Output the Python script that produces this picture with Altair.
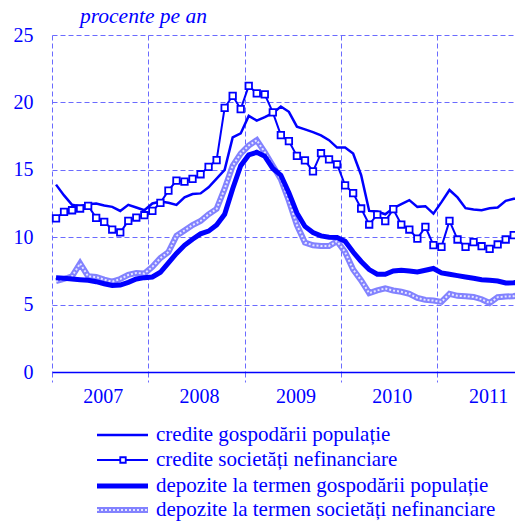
import altair as alt
import pandas as pd

# ---------------- data (monthly, Jan 2007 - Nov 2011) ----------------
credite_gosp = [13.9, 13.1, 12.4, 12.3, 12.45, 12.5, 12.35, 12.25, 11.95, 12.4, 12.2, 12.0,
                12.5, 12.65, 12.55, 12.4, 12.95, 13.2, 13.25, 13.7, 14.35, 15.0, 17.4, 17.7,
                19.0, 18.65, 18.9, 19.2, 19.7, 19.3, 18.2, 18.0, 17.8, 17.55, 17.2, 16.65,
                16.65, 16.2, 14.6, 11.95, 11.9, 11.7, 12.15, 12.45, 12.75, 12.25, 12.3, 11.75,
                12.6, 13.5, 12.95, 12.15, 12.05, 12.0, 12.15, 12.2, 12.7, 12.85, 12.9]
credite_soc = [11.4, 11.88, 12.0, 12.13, 12.33, 11.43, 11.14, 10.57, 10.35, 11.21, 11.46, 11.63,
               11.95, 12.55, 13.45, 14.2, 14.12, 14.33, 14.67, 15.22, 15.72, 19.6, 20.49, 19.5,
               21.23, 20.67, 20.6, 19.26, 17.57, 17.13, 16.03, 15.7, 14.88, 16.23, 15.77, 15.41,
               13.85, 13.27, 12.13, 10.94, 11.68, 11.19, 12.08, 10.94, 10.57, 9.9, 10.77, 9.41,
               9.28, 11.21, 9.83, 9.28, 9.63, 9.33, 9.13, 9.46, 9.83, 10.15, 10.15]
depozite_gosp = [7.0, 6.95, 6.9, 6.85, 6.8, 6.7, 6.55, 6.42, 6.45, 6.65, 6.9, 7.0,
                 7.05, 7.4, 8.1, 8.8, 9.4, 9.85, 10.25, 10.45, 10.9, 11.7, 13.6, 15.3,
                 16.1, 16.3, 16.0, 15.1, 14.6, 13.3, 11.8, 10.8, 10.35, 10.1, 10.0, 9.98,
                 9.7, 8.9, 8.2, 7.6, 7.25, 7.25, 7.5, 7.55, 7.5, 7.42, 7.55, 7.68,
                 7.35, 7.25, 7.15, 7.05, 6.95, 6.85, 6.8, 6.75, 6.6, 6.62, 6.68]
depozite_soc = [6.75, 6.9, 7.1, 8.05, 7.1, 7.05, 6.85, 6.7, 6.9, 7.2, 7.35, 7.3,
                7.8, 8.45, 8.9, 10.1, 10.5, 10.9, 11.2, 11.7, 12.1, 13.6, 15.3, 16.2,
                16.8, 17.2, 16.3, 15.3, 14.3, 12.7, 10.9, 9.6, 9.4, 9.35, 9.35, 9.7,
                8.9, 7.6, 6.8, 5.85, 6.05, 6.2, 6.05, 5.95, 5.8, 5.5, 5.35, 5.3,
                5.2, 5.8, 5.65, 5.62, 5.57, 5.4, 5.12, 5.55, 5.6, 5.62, 5.8]
years = ["2007", "2008", "2009", "2010", "2011"]
y_ticks = [0, 5, 10, 15, 20, 25]
legend_labels = ["credite gospodării populație",
                 "credite societăți nefinanciare",
                 "depozite la termen gospodării populație",
                 "depozite la termen societăți nefinanciare"]
unit_title = "procente pe an"

# ---------------- tables ----------------
n = len(credite_gosp)
df = pd.DataFrame({
    "t": [i + 0.5 for i in range(n)],
    "cg": credite_gosp,
    "cs": credite_soc,
    "dg": depozite_gosp,
    "ds": depozite_soc,
})
df_years = pd.DataFrame({"tc": [6 + 12 * k for k in range(len(years))], "year": years})

BLUE = "#0000ff"
GRID = "#6b6bff"
FONT = "Liberation Serif"
W, H = 463, 337
MONTH_PX = 8.03

xscale = alt.Scale(domain=[0, W / MONTH_PX], nice=False, zero=False)
yscale = alt.Scale(domain=[0, 25], nice=False, zero=True)
xaxis = alt.Axis(values=[0, 12, 24, 36, 48], grid=True, gridDash=[5, 3], gridColor=GRID,
                 gridWidth=1, ticks=True, tickSize=10, tickDash=[5, 3], tickColor=GRID,
                 labels=False, domain=True, domainColor=BLUE, domainWidth=1.5, title=None)
yaxis = alt.Axis(values=y_ticks, grid=True, gridDash=[5, 3], gridColor=GRID, gridWidth=1,
                 ticks=False, domain=False, labelFont=FONT, labelFontSize=20,
                 labelColor=BLUE, labelPadding=19, title=None)


def X(field="t"):
    return alt.X(f"{field}:Q", scale=xscale, axis=xaxis)


def Y(field):
    return alt.Y(f"{field}:Q", scale=yscale, axis=yaxis)


base = alt.Chart(df)

l_ds = base.mark_line(color="#8282ff", strokeWidth=6).encode(x=X(), y=Y("ds"))
l_ds2 = base.mark_line(color="white", strokeWidth=2, strokeDash=[2, 2], opacity=0.8).encode(x=X(), y=Y("ds"))
l_dg = base.mark_line(color=BLUE, strokeWidth=5).encode(x=X(), y=Y("dg"))
l_cg = base.mark_line(color=BLUE, strokeWidth=2.5).encode(x=X(), y=Y("cg"))
l_cs = base.mark_line(color=BLUE, strokeWidth=2).encode(x=X(), y=Y("cs"))
p_cs = base.mark_point(shape="square", filled=True, fill="white", stroke=BLUE,
                       strokeWidth=1.8, size=42, opacity=1).encode(x=X(), y=Y("cs"))

year_text = alt.Chart(df_years).mark_text(font=FONT, fontSize=20, color=BLUE,
                                          baseline="middle", align="center", dx=3).encode(
    x=X("tc"), y=alt.value(H + 25), text="year:N")

title_text = alt.Chart(pd.DataFrame({"s": [unit_title]})).mark_text(
    font=FONT, fontSize=21.5, fontStyle="italic", color=BLUE, align="left",
    baseline="alphabetic").encode(x=alt.value(28), y=alt.value(-12), text="s:N")

# ---------------- legend ----------------
rows_y = [400, 425, 451, 475]
LX1, LX2, TX = 45, 96, 104
leg = []
for k, lab in enumerate(legend_labels):
    d = pd.DataFrame({"label": [lab]})
    c = alt.Chart(d)
    yv = alt.value(rows_y[k])
    if k == 0:
        leg.append(c.mark_rule(color=BLUE, strokeWidth=2.5).encode(x=alt.value(LX1), x2=alt.value(LX2), y=yv))
    elif k == 1:
        leg.append(c.mark_rule(color=BLUE, strokeWidth=2).encode(x=alt.value(LX1), x2=alt.value(LX2), y=yv))
        leg.append(c.mark_point(shape="square", filled=True, fill="white", stroke=BLUE,
                                strokeWidth=1.8, size=30, opacity=1).encode(x=alt.value(71), y=yv))
    elif k == 2:
        leg.append(c.mark_rule(color=BLUE, strokeWidth=5).encode(x=alt.value(LX1), x2=alt.value(LX2), y=yv))
    else:
        leg.append(c.mark_rule(color="#8282ff", strokeWidth=6).encode(x=alt.value(LX1), x2=alt.value(LX2), y=yv))
        leg.append(c.mark_rule(color="white", strokeWidth=2, strokeDash=[2, 2], opacity=0.8).encode(
            x=alt.value(LX1), x2=alt.value(LX2), y=yv))
    leg.append(c.mark_text(font=FONT, fontSize=21, color=BLUE, align="left", baseline="middle").encode(
        x=alt.value(TX), y=yv, text="label:N"))

chart = alt.layer(l_ds, l_ds2, l_dg, l_cg, l_cs, p_cs, year_text, title_text, *leg).properties(
    width=W, height=H,
    autosize=alt.AutoSizeParams(type="none"),
    padding={"left": 44, "top": 27, "right": 0, "bottom": 149},
    background="white",
).configure_view(stroke=None)

chart.save("out.html", embed_options={"renderer": "svg", "actions": False})
